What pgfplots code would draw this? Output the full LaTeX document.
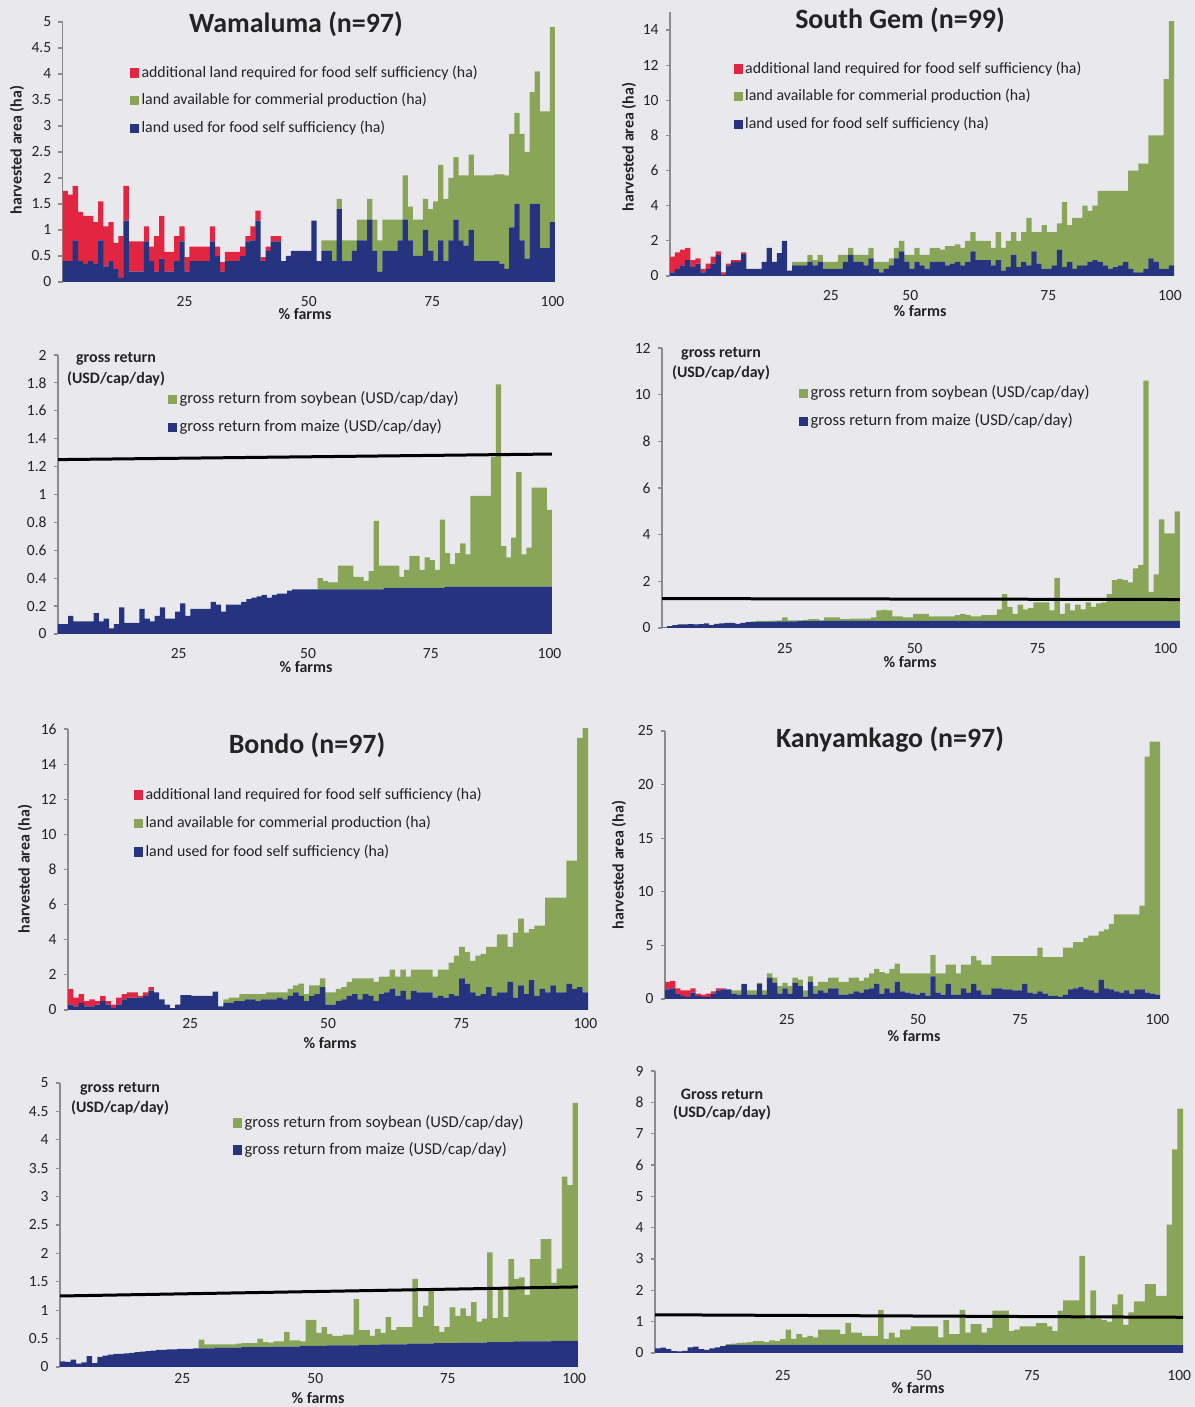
\documentclass[border=0pt]{standalone}
\usepackage{pgfplots}
\usepackage{pgfplotstable}
\pgfplotsset{compat=1.18}
\usepackage{fontspec}
\setmainfont{Carlito}

\definecolor{cBlue}{RGB}{38,52,128}
\definecolor{cGreen}{RGB}{137,166,88}
\definecolor{cRed}{RGB}{226,38,66}
\definecolor{bg}{RGB}{233,233,237}
\definecolor{axgray}{RGB}{140,140,140}
\definecolor{txt}{RGB}{35,35,35}

\newcommand\tickfont{\fontsize{7.8}{9}\selectfont}
\newcommand\legfont{\fontsize{7.95}{9}\selectfont}
\newcommand\glegfont{\fontsize{8.3}{9.5}\selectfont}
\newcommand\labfont{\bfseries\fontsize{8}{9.5}\selectfont}
\newcommand\titfont{\bfseries\fontsize{14}{16}\selectfont}

\pgfplotsset{
  panel/.style={
    scale only axis, anchor=south west,
    ybar stacked, bar width=1.04,
    axis lines*=left,
    x axis line style={draw=none},
    y axis line style={draw=axgray, line width=0.6bp},
    tick align=outside,
    major tick length=2.2bp,
    ytick style={draw=axgray, line width=0.6bp},
    xtick style={draw=none},
    ymin=0, xmin=0.5,
    tick label style={font=\tickfont, text=txt},
    /pgf/number format/assume math mode=true,
    /pgf/number format/fixed,
    legend cell align=left, reverse legend,
    legend style={draw=none, fill=none, anchor=north west, inner sep=0pt, outer sep=0pt,
      column sep=1.2bp, font=\legfont,
      nodes={inner sep=0pt, text height=5.6bp, text depth=1.6bp, text=txt}},
  },
  glegend/.style={legend style={font=\glegfont}},
  sq/.style={legend image code/.code={\fill[##1] (0bp,-2.3bp) rectangle (4.6bp,2.3bp);}},
  sb/.style={fill=cBlue, draw=none, sq},
  sg/.style={fill=cGreen, draw=none, sq},
  sr/.style={fill=cRed, draw=none, sq},
  lineaxis/.style={scale only axis, anchor=south west, hide axis, ymin=0, xmin=0.5},
}

% ---------------- harvested area: Wamaluma ----------------
\pgfplotstableread{
i b g r
1 0.40 0 1.35
2 0.40 0 1.28
3 0.80 0 1.05
4 0.40 0 0.95
5 0.35 0 0.92
6 0.40 0 0.87
7 0.35 0 0.80
8 0.80 0 0.75
9 0.30 0 0.77
10 0.40 0 0.75
11 0.25 0 0.50
12 0.08 0 0.80
13 1.18 0 0.67
14 0.20 0 0.58
15 0.20 0 0.58
16 0.20 0 0.58
17 0.78 0 0.29
18 0.40 0 0.28
19 0.20 0 0.68
20 0.45 0 0.82
21 0.20 0 0.38
22 0.20 0 0.38
23 0.40 0 0.48
24 0.78 0 0.29
25 0.20 0 0.28
26 0.40 0 0.28
27 0.40 0 0.28
28 0.40 0 0.28
29 0.40 0 0.28
30 0.78 0 0.29
31 0.50 0 0.18
32 0.20 0 0.18
33 0.40 0 0.18
34 0.40 0 0.18
35 0.40 0 0.18
36 0.50 0 0.18
37 0.78 0 0.10
38 0.80 0 0.27
39 1.18 0 0.19
40 0.40 0 0.08
41 0.60 0 0.08
42 0.78 0 0.10
43 0.78 0 0.10
44 0.40 0 0
45 0.50 0 0
46 0.60 0 0
47 0.60 0 0
48 0.60 0 0
49 0.60 0 0
50 1.18 0 0
51 0.40 0 0
52 0.60 0.20 0
53 0.60 0.20 0
54 0.40 0.40 0
55 1.40 0.20 0
56 0.40 0.40 0
57 0.40 0.40 0
58 0.60 0.20 0
59 0.80 0.40 0
60 0.80 0.40 0
61 1.20 0.40 0
62 0.60 0.60 0
63 0.20 0.60 0
64 0.60 0.60 0
65 0.60 0.60 0
66 0.60 0.60 0
67 0.80 0.40 0
68 1.20 0.85 0
69 0.80 0.65 0
70 0.50 0.70 0
71 0.50 0.70 0
72 1.00 0.60 0
73 0.60 0.80 0
74 0.40 1.15 0
75 0.80 1.45 0
76 0.40 1.20 0
77 0.80 1.20 0
78 1.20 1.20 0
79 0.80 1.25 0
80 0.70 1.35 0
81 1.00 1.45 0
82 0.40 1.65 0
83 0.40 1.65 0
84 0.40 1.65 0
85 0.40 1.65 0
86 0.40 1.67 0
87 0.35 1.72 0
88 0.25 1.80 0
89 1.05 1.80 0
90 1.50 1.75 0
91 0.80 2.05 0
92 0.45 2.05 0
93 1.50 2.15 0
94 1.50 2.55 0
95 0.65 2.63 0
96 0.65 2.63 0
97 1.15 3.75 0
}\tabWa

% ---------------- harvested area: South Gem ----------------
\pgfplotstableread{
i b g r
1 0.20 0 0.90
2 0.40 0 0.95
3 0.60 0 0.90
4 0.90 0 0.70
5 0.50 0 0.40
6 0.70 0 0.30
7 0.20 0 0.20
8 0.40 0 0.30
9 0.70 0 0.40
10 1.20 0 0.20
11 0.05 0 0.15
12 0.60 0 0.10
13 0.80 0 0.10
14 0.80 0 0.10
15 1.25 0 0.10
16 0.40 0 0
17 0.40 0 0
18 0.40 0 0
19 0.80 0 0
20 1.60 0 0
21 0.80 0 0
22 1.30 0 0
23 2.00 0 0
24 0.30 0 0
25 0.60 0.20 0
26 0.60 0.20 0
27 0.60 0.20 0
28 0.80 0.40 0
29 0.60 0.30 0
30 0.80 0.40 0
31 0.40 0.40 0
32 0.40 0.40 0
33 0.40 0.40 0
34 0.40 0.80 0
35 0.80 0.40 0
36 1.20 0.40 0
37 0.80 0.40 0
38 0.80 0.40 0
39 0.60 0.60 0
40 1.00 0.60 0
41 0.40 0.40 0
42 0.20 0.60 0
43 0.40 0.40 0
44 0.60 0.40 0
45 1.00 0.60 0
46 1.40 0.60 0
47 0.80 0.40 0
48 0.40 0.80 0
49 0.80 0.80 0
50 0.60 0.60 0
51 0.40 0.80 0
52 0.80 0.80 0
53 0.80 0.80 0
54 0.80 0.70 0
55 0.60 1.10 0
56 0.70 1.00 0
57 0.80 1.00 0
58 0.60 1.00 0
59 0.80 1.20 0
60 1.40 1.10 0
61 0.90 1.10 0
62 0.90 1.10 0
63 0.90 1.10 0
64 0.60 1.00 0
65 0.90 1.60 0
66 0.30 1.30 0
67 0.50 1.50 0
68 1.20 1.30 0
69 0.50 1.50 0
70 0.80 1.70 0
71 0.60 2.70 0
72 1.40 1.10 0
73 0.70 1.80 0
74 0.40 2.50 0
75 0.40 2.10 0
76 0.60 1.90 0
77 1.50 1.50 0
78 0.50 3.70 0
79 0.80 2.10 0
80 0.40 2.90 0
81 0.60 2.70 0
82 0.60 3.40 0
83 0.80 2.90 0
84 0.90 3.10 0
85 0.80 4.05 0
86 0.60 4.25 0
87 0.40 4.45 0
88 0.50 4.35 0
89 0.60 4.25 0
90 0.80 4.05 0
91 0.40 5.60 0
92 0.20 5.80 0
93 0.20 6.20 0
94 0.40 6.00 0
95 1.00 7.00 0
96 0.80 7.20 0
97 0.40 7.60 0
98 0.40 10.80 0
99 0.60 13.90 0
}\tabSa

% ---------------- gross return: Wamaluma ----------------
\pgfplotstableread{
i m s
1 0.07 0
2 0.07 0
3 0.13 0
4 0.09 0
5 0.09 0
6 0.09 0
7 0.09 0
8 0.15 0
9 0.09 0
10 0.11 0
11 0.04 0
12 0.07 0
13 0.19 0
14 0.08 0
15 0.08 0
16 0.08 0
17 0.18 0
18 0.11 0
19 0.09 0
20 0.13 0
21 0.19 0
22 0.11 0
23 0.11 0
24 0.16 0
25 0.22 0
26 0.13 0
27 0.18 0
28 0.18 0
29 0.18 0
30 0.18 0
31 0.23 0
32 0.21 0
33 0.16 0
34 0.21 0
35 0.21 0
36 0.21 0
37 0.23 0
38 0.25 0
39 0.26 0
40 0.27 0
41 0.28 0
42 0.26 0
43 0.28 0
44 0.29 0
45 0.29 0
46 0.31 0
47 0.32 0
48 0.32 0
49 0.32 0
50 0.32 0
51 0.32 0
52 0.32 0.08
53 0.32 0.06
54 0.32 0.05
55 0.32 0.05
56 0.32 0.17
57 0.32 0.17
58 0.32 0.17
59 0.32 0.09
60 0.32 0.09
61 0.32 0.06
62 0.32 0.13
63 0.32 0.49
64 0.32 0.17
65 0.33 0.16
66 0.33 0.16
67 0.33 0.16
68 0.33 0.08
69 0.33 0.13
70 0.33 0.23
71 0.33 0.23
72 0.33 0.13
73 0.33 0.22
74 0.33 0.20
75 0.33 0.13
76 0.33 0.49
77 0.34 0.24
78 0.34 0.16
79 0.34 0.24
80 0.34 0.31
81 0.34 0.23
82 0.34 0.65
83 0.34 0.65
84 0.34 0.65
85 0.34 0.65
86 0.34 0.93
87 0.34 1.45
88 0.34 0.29
89 0.34 0.21
90 0.34 0.35
91 0.34 0.82
92 0.34 0.23
93 0.34 0.28
94 0.34 0.71
95 0.34 0.71
96 0.34 0.71
97 0.34 0.55
}\tabWb

% ---------------- gross return: South Gem ----------------
\pgfplotstableread{
i m s
1 0.03 0
2 0.08 0
3 0.12 0
4 0.15 0
5 0.15 0
6 0.17 0
7 0.15 0
8 0.17 0
9 0.20 0
10 0.12 0
11 0.18 0
12 0.20 0
13 0.22 0
14 0.22 0
15 0.18 0
16 0.22 0
17 0.25 0
18 0.25 0.03
19 0.26 0.04
20 0.26 0.04
21 0.27 0.03
22 0.27 0.05
23 0.28 0.05
24 0.28 0.17
25 0.28 0.05
26 0.28 0.05
27 0.29 0.04
28 0.29 0.06
29 0.29 0.09
30 0.29 0.09
31 0.30 0.03
32 0.30 0.15
33 0.30 0.15
34 0.30 0.15
35 0.30 0.08
36 0.30 0.08
37 0.30 0.10
38 0.30 0.10
39 0.30 0.10
40 0.30 0.10
41 0.30 0.15
42 0.30 0.45
43 0.30 0.48
44 0.30 0.45
45 0.30 0.20
46 0.30 0.20
47 0.30 0.15
48 0.30 0.15
49 0.30 0.30
50 0.30 0.30
51 0.30 0.30
52 0.30 0.20
53 0.30 0.20
54 0.30 0.20
55 0.30 0.20
56 0.30 0.20
57 0.30 0.25
58 0.30 0.30
59 0.30 0.25
60 0.30 0.20
61 0.30 0.20
62 0.30 0.25
63 0.30 0.25
64 0.30 0.25
65 0.30 0.50
66 0.30 1.15
67 0.30 0.60
68 0.30 0.30
69 0.30 0.70
70 0.30 0.50
71 0.30 0.55
72 0.30 0.80
73 0.30 0.80
74 0.30 0.80
75 0.30 0.45
76 0.30 1.85
77 0.30 0.30
78 0.30 0.75
79 0.30 0.45
80 0.30 0.70
81 0.30 0.50
82 0.30 0.80
83 0.30 0.60
84 0.30 0.75
85 0.30 0.80
86 0.30 1.15
87 0.30 1.75
88 0.30 1.80
89 0.30 1.75
90 0.30 1.65
91 0.30 2.25
92 0.30 2.40
93 0.30 10.30
94 0.30 1.25
95 0.30 2.00
96 0.30 4.35
97 0.30 3.75
98 0.30 3.75
99 0.30 4.70
}\tabSb

% ---------------- harvested area: Bondo ----------------
\pgfplotstableread{
i b g r
1 0.30 0 0.90
2 0.20 0 0.50
3 0.40 0 0.50
4 0.20 0 0.30
5 0.20 0 0.40
6 0.30 0 0.20
7 0.50 0 0.30
8 0.30 0 0.20
9 0.10 0 0.20
10 0.30 0 0.40
11 0.60 0 0.30
12 0.70 0 0.30
13 0.70 0 0.30
14 0.70 0 0.10
15 0.80 0 0.20
16 1.10 0 0.20
17 1.00 0 0
18 0.60 0 0
19 0.30 0 0
20 0.10 0 0
21 0.30 0 0
22 0.85 0 0
23 0.85 0 0
24 0.80 0 0
25 0.80 0 0
26 0.80 0 0
27 0.80 0 0
28 1.05 0 0
29 0.20 0 0
30 0.40 0.20 0
31 0.40 0.30 0
32 0.50 0.20 0
33 0.50 0.40 0
34 0.60 0.30 0
35 0.60 0.30 0
36 0.50 0.40 0
37 0.60 0.30 0
38 0.60 0.40 0
39 0.60 0.40 0
40 0.70 0.30 0
41 0.60 0.40 0
42 0.80 0.40 0
43 1.00 0.40 0
44 0.80 0.70 0
45 0.50 0.40 0
46 0.80 0.60 0
47 0.90 0.50 0
48 1.30 0.50 0
49 0.30 0.70 0
50 0.30 0.70 0
51 0.50 0.70 0
52 0.60 0.70 0
53 0.80 0.80 0
54 0.90 0.90 0
55 0.60 1.20 0
56 0.90 0.90 0
57 0.80 1.00 0
58 0.50 1.10 0
59 0.90 1.00 0
60 1.00 0.90 0
61 1.20 1.10 0
62 0.80 1.10 0
63 1.10 1.20 0
64 0.60 1.30 0
65 1.10 1.20 0
66 1.00 1.30 0
67 1.00 1.30 0
68 1.00 1.30 0
69 0.70 1.20 0
70 0.80 1.50 0
71 0.70 1.60 0
72 0.90 1.80 0
73 0.80 2.30 0
74 1.80 1.80 0
75 1.50 1.80 0
76 1.00 1.80 0
77 0.80 2.30 0
78 0.90 2.30 0
79 1.30 2.30 0
80 0.80 2.80 0
81 1.00 3.30 0
82 1.00 3.30 0
83 1.60 2.00 0
84 0.70 3.70 0
85 1.40 3.80 0
86 0.90 3.50 0
87 1.70 2.90 0
88 0.80 4.00 0
89 1.20 3.60 0
90 1.00 5.40 0
91 1.40 5.00 0
92 1.00 5.40 0
93 1.00 5.40 0
94 1.50 7.00 0
95 1.20 7.30 0
96 1.30 14.20 0
97 1.00 15.50 0
}\tabBa

% ---------------- harvested area: Kanyamkago ----------------
\pgfplotstableread{
i b g r
1 0.90 0 0.70
2 1.00 0 0.70
3 0.50 0 0.50
4 0.30 0 0.50
5 0.20 0 0.60
6 0.60 0 0.40
7 0.30 0 0.20
8 0.20 0 0.20
9 0.20 0 0.30
10 0.50 0 0.20
11 0.80 0 0.20
12 0.90 0 0.10
13 0.90 0 0
14 0.50 0.30 0
15 0.40 0.40 0
16 1.40 0 0
17 0.40 0.40 0
18 0.40 0.40 0
19 1.40 0.10 0
20 0.40 0.40 0
21 2.00 0.40 0
22 1.50 0.50 0
23 0.50 0.70 0
24 1.00 0.50 0
25 0.50 0.70 0
26 1.50 0.50 0
27 1.20 0.60 0
28 0.20 0.60 0
29 1.60 0.50 0
30 0.50 0.70 0
31 0.80 0.80 0
32 0.60 1.00 0
33 1.00 1.00 0
34 1.00 1.00 0
35 0.40 1.20 0
36 0.40 1.20 0
37 0.50 1.50 0
38 0.70 1.30 0
39 0.60 1.10 0
40 0.90 1.10 0
41 1.00 1.40 0
42 1.40 1.40 0
43 0.50 2.00 0
44 1.00 1.40 0
45 0.60 2.20 0
46 1.60 1.70 0
47 0.70 1.70 0
48 0.60 1.80 0
49 0.50 1.90 0
50 0.40 2.00 0
51 0.60 1.80 0
52 0.30 2.10 0
53 2.10 2.00 0
54 0.60 1.80 0
55 0.40 2.00 0
56 1.40 1.80 0
57 0.40 2.80 0
58 0.40 2.00 0
59 1.00 2.20 0
60 0.60 2.60 0
61 1.40 2.60 0
62 0.80 2.80 0
63 0.40 2.80 0
64 0.40 2.80 0
65 1.00 3.00 0
66 1.00 3.00 0
67 0.90 3.10 0
68 0.90 3.10 0
69 0.80 3.20 0
70 0.80 3.20 0
71 1.40 2.60 0
72 0.60 3.40 0
73 0.50 3.50 0
74 0.70 4.10 0
75 0.50 3.40 0
76 0.30 3.60 0
77 0.30 3.60 0
78 0.20 3.70 0
79 0.40 4.40 0
80 0.90 3.90 0
81 1.00 4.30 0
82 1.10 4.20 0
83 0.90 4.80 0
84 0.80 5.10 0
85 0.60 5.30 0
86 1.80 4.50 0
87 1.00 5.50 0
88 0.90 6.10 0
89 0.70 7.20 0
90 0.60 7.30 0
91 0.80 7.10 0
92 0.50 7.40 0
93 0.90 7.00 0
94 0.90 7.80 0
95 0.60 22.00 0
96 0.50 23.50 0
97 0.40 23.60 0
}\tabKa

% ---------------- gross return: Bondo ----------------
\pgfplotstableread{
i m s
1 0.10 0
2 0.09 0
3 0.13 0
4 0.06 0
5 0.08 0
6 0.19 0
7 0.07 0
8 0.18 0
9 0.20 0
10 0.22 0
11 0.23 0
12 0.23 0
13 0.24 0
14 0.25 0
15 0.26 0
16 0.27 0
17 0.28 0
18 0.29 0
19 0.30 0
20 0.30 0
21 0.31 0
22 0.31 0
23 0.32 0
24 0.32 0
25 0.32 0
26 0.33 0
27 0.33 0.15
28 0.33 0.07
29 0.33 0.07
30 0.34 0.06
31 0.34 0.06
32 0.34 0.06
33 0.34 0.06
34 0.34 0.07
35 0.35 0.07
36 0.35 0.07
37 0.35 0.07
38 0.35 0.15
39 0.35 0.09
40 0.35 0.08
41 0.36 0.09
42 0.36 0.09
43 0.36 0.26
44 0.36 0.11
45 0.36 0.11
46 0.37 0.08
47 0.37 0.46
48 0.37 0.46
49 0.37 0.23
50 0.37 0.33
51 0.38 0.20
52 0.38 0.17
53 0.38 0.17
54 0.38 0.19
55 0.38 0.19
56 0.38 0.82
57 0.39 0.26
58 0.39 0.26
59 0.39 0.16
60 0.39 0.28
61 0.40 0.20
62 0.40 0.48
63 0.40 0.25
64 0.40 0.30
65 0.40 0.30
66 0.41 0.29
67 0.41 1.14
68 0.41 0.47
69 0.41 0.67
70 0.41 0.94
71 0.42 0.30
72 0.42 0.20
73 0.42 0.28
74 0.42 0.63
75 0.42 0.48
76 0.43 0.60
77 0.43 0.47
78 0.43 0.71
79 0.43 0.37
80 0.43 0.42
81 0.44 1.58
82 0.44 0.42
83 0.44 0.95
84 0.44 0.44
85 0.44 1.46
86 0.45 1.10
87 0.45 1.13
88 0.45 0.82
89 0.45 1.45
90 0.45 1.45
91 0.45 1.80
92 0.45 1.80
93 0.46 1.02
94 0.46 1.27
95 0.46 2.89
96 0.46 2.74
97 0.46 4.19
}\tabBb

% ---------------- gross return: Kanyamkago ----------------
\pgfplotstableread{
i m s
1 0.15 0
2 0.17 0
3 0.12 0
4 0.06 0
5 0.05 0
6 0.07 0
7 0.18 0
8 0.20 0
9 0.12 0
10 0.10 0
11 0.15 0
12 0.18 0
13 0.22 0
14 0.25 0.03
15 0.26 0.04
16 0.26 0.06
17 0.26 0.07
18 0.26 0.09
19 0.26 0.12
20 0.26 0.12
21 0.26 0.09
22 0.26 0.14
23 0.26 0.12
24 0.26 0.19
25 0.26 0.49
26 0.26 0.19
27 0.26 0.34
28 0.26 0.24
29 0.26 0.29
30 0.26 0.24
31 0.26 0.49
32 0.26 0.49
33 0.26 0.49
34 0.26 0.49
35 0.26 0.34
36 0.26 0.69
37 0.26 0.39
38 0.26 0.39
39 0.26 0.29
40 0.26 0.29
41 0.26 0.29
42 0.26 1.12
43 0.26 0.19
44 0.26 0.39
45 0.26 0.24
46 0.26 0.49
47 0.26 0.49
48 0.26 0.59
49 0.26 0.59
50 0.26 0.59
51 0.26 0.59
52 0.26 0.59
53 0.26 0.24
54 0.26 0.79
55 0.26 0.34
56 0.26 0.34
57 0.26 1.12
58 0.26 0.39
59 0.26 0.66
60 0.26 0.66
61 0.25 0.40
62 0.25 0.55
63 0.25 1.10
64 0.25 1.10
65 0.25 1.10
66 0.25 0.45
67 0.25 0.50
68 0.25 0.60
69 0.25 0.60
70 0.25 0.60
71 0.25 0.70
72 0.25 0.70
73 0.25 0.60
74 0.25 0.45
75 0.25 1.10
76 0.25 1.43
77 0.25 1.43
78 0.25 1.43
79 0.25 2.85
80 0.25 0.83
81 0.25 1.75
82 0.25 0.85
83 0.25 0.80
84 0.25 0.75
85 0.25 1.30
86 0.25 1.62
87 0.25 0.65
88 0.25 1.05
89 0.25 1.40
90 0.25 1.40
91 0.25 1.95
92 0.25 1.95
93 0.25 1.57
94 0.25 1.57
95 0.25 3.85
96 0.25 6.25
97 0.25 7.55
}\tabKb

\begin{document}
\begin{tikzpicture}
\useasboundingbox[fill=bg] (0bp,0bp) rectangle (597.5bp,703.5bp);

% ===== Wamaluma: harvested area =====
\begin{axis}[panel, at={(31.35bp,562.5bp)}, width=246.15bp, height=130bp,
  xmax=97.5, ymax=5, ytick={0,0.5,...,5},
  xtick={24.5,49,73.3,97}, xticklabels={25,50,75,100},
  xticklabel style={yshift=-1.5bp},
  legend style={at={(0.1367,0.8312)}, row sep=6.65bp}]
\addplot[sb] table[x=i,y=b]{\tabWa};
\addplot[sg] table[x=i,y=g]{\tabWa};
\addplot[sr] table[x=i,y=r]{\tabWa};
\legend{land used for food self sufficiency (ha),land available for commerial production (ha),additional land required for food self sufficiency (ha)}
\end{axis}

% ===== South Gem: harvested area =====
\begin{axis}[panel, at={(335bp,565.5bp)}, width=252bp, height=131.8bp,
  xmax=99.5, ymax=15, ytick={0,2,...,14},
  xtick={32.1,47.7,74.8,98.7}, xticklabels={25,50,75,100},
  xticklabel style={yshift=-1.5bp},
  legend style={at={(0.1262,0.8122)}, row sep=6.65bp}]
\addplot[sb] table[x=i,y=b]{\tabSa};
\addplot[sg] table[x=i,y=g]{\tabSa};
\addplot[sr] table[x=i,y=r]{\tabSa};
\legend{land used for food self sufficiency (ha),land available for commerial production (ha),additional land required for food self sufficiency (ha)}
\end{axis}

% ===== Wamaluma: gross return =====
\begin{axis}[panel, glegend, at={(29bp,386.5bp)}, width=247bp, height=139.5bp,
  xmax=97.5, ymax=2, ytick={0,0.2,...,2.01},
  xtick={24.2,49.6,73.7,97}, xticklabels={25,50,75,100},
  xticklabel style={yshift=-1.5bp},
  legend style={at={(0.2227,0.8677)}, row sep=6.9bp}]
\addplot[sb] table[x=i,y=m]{\tabWb};
\addplot[sg] table[x=i,y=s]{\tabWb};
\legend{gross return from maize (USD/cap/day),gross return from soybean (USD/cap/day)}
\end{axis}
\begin{axis}[lineaxis, at={(29bp,386.5bp)}, width=247bp, height=139.5bp, xmax=97.5, ymax=2]
\addplot[black, line width=1.5bp] coordinates {(0.5,1.25) (97.5,1.29)};
\end{axis}

% ===== South Gem: gross return =====
\begin{axis}[panel, glegend, at={(331bp,389.5bp)}, width=259bp, height=140bp,
  xmax=99.5, ymax=12, ytick={0,2,...,12},
  xtick={24,48.8,72.3,96.7}, xticklabels={25,50,75,100},
  xticklabel style={yshift=-2bp},
  legend style={at={(0.2645,0.8646)}, row sep=7.15bp}]
\addplot[sb] table[x=i,y=m]{\tabSb};
\addplot[sg] table[x=i,y=s]{\tabSb};
\legend{gross return from maize (USD/cap/day),gross return from soybean (USD/cap/day)}
\end{axis}
\begin{axis}[lineaxis, at={(331bp,389.5bp)}, width=259bp, height=140bp, xmax=99.5, ymax=12]
\addplot[black, line width=1.5bp] coordinates {(0.5,1.26) (99.5,1.22)};
\end{axis}

% ===== Bondo: harvested area =====
\begin{axis}[panel, at={(34bp,198.5bp)}, width=260bp, height=140.5bp,
  xmax=97.5, ymax=16, ytick={0,2,...,16},
  xtick={23.3,49,73.9,97}, xticklabels={25,50,75,100},
  xticklabel style={yshift=1.5bp},
  legend style={at={(0.1269,0.7904)}, row sep=7.05bp}]
\addplot[sb] table[x=i,y=b]{\tabBa};
\addplot[sg] table[x=i,y=g]{\tabBa};
\addplot[sr] table[x=i,y=r]{\tabBa};
\legend{land used for food self sufficiency (ha),land available for commerial production (ha),additional land required for food self sufficiency (ha)}
\end{axis}

% ===== Kanyamkago: harvested area =====
\begin{axis}[panel, at={(332.5bp,204bp)}, width=247.5bp, height=134bp,
  xmax=97.5, ymax=25, ytick={0,5,...,25},
  xtick={24.4,50.1,70.1,97}, xticklabels={25,50,75,100},
  xticklabel style={yshift=-2bp}]
\addplot[sb] table[x=i,y=b]{\tabKa};
\addplot[sg] table[x=i,y=g]{\tabKa};
\addplot[sr] table[x=i,y=r]{\tabKa};
\end{axis}

% ===== Bondo: gross return =====
\begin{axis}[panel, glegend, at={(30bp,20bp)}, width=259bp, height=142bp,
  xmax=97.5, ymax=5, ytick={0,0.5,...,5},
  xtick={23.4,48.3,73.1,96.8}, xticklabels={25,50,75,100},
  xticklabel style={yshift=2.5bp},
  legend style={at={(0.334,0.8842)}, row sep=6.3bp}]
\addplot[sb] table[x=i,y=m]{\tabBb};
\addplot[sg] table[x=i,y=s]{\tabBb};
\legend{gross return from maize (USD/cap/day),gross return from soybean (USD/cap/day)}
\end{axis}
\begin{axis}[lineaxis, at={(30bp,20bp)}, width=259bp, height=142bp, xmax=97.5, ymax=5]
\addplot[black, line width=1.5bp] coordinates {(0.5,1.25) (97.5,1.41)};
\end{axis}

% ===== Kanyamkago: gross return =====
\begin{axis}[panel, at={(327.5bp,27bp)}, width=264bp, height=141bp,
  xmax=97.5, ymax=9, ytick={0,1,...,9},
  xtick={24,49.9,69.8,96.8}, xticklabels={25,50,75,100},
  xticklabel style={yshift=-3bp}]
\addplot[sb] table[x=i,y=m]{\tabKb};
\addplot[sg] table[x=i,y=s]{\tabKb};
\end{axis}
\begin{axis}[lineaxis, at={(327.5bp,27bp)}, width=264bp, height=141bp, xmax=97.5, ymax=9]
\addplot[black, line width=1.5bp] coordinates {(0.5,1.22) (97.5,1.14)};
\end{axis}

% ----- titles and labels -----
\begin{scope}[every node/.style={text=txt}]
\node[font=\titfont] at (148bp,691.5bp) {Wamaluma (n=97)};
\node[font=\titfont] at (450bp,693.5bp) {South Gem (n=99)};
\node[font=\titfont] at (153.5bp,331bp) {Bondo (n=97)};
\node[font=\titfont] at (445bp,333.5bp) {Kanyamkago (n=97)};

\node[font=\labfont, rotate=90] at (8.5bp,628.5bp) {harvested area (ha)};
\node[font=\labfont, rotate=90] at (314.5bp,630bp) {harvested area (ha)};
\node[font=\labfont, rotate=90] at (12.5bp,269bp) {harvested area (ha)};
\node[font=\labfont, rotate=90] at (309.5bp,271bp) {harvested area (ha)};

\node[font=\labfont] at (152.5bp,546.5bp) {\% farms};
\node[font=\labfont] at (460bp,548bp) {\% farms};
\node[font=\labfont] at (153bp,370bp) {\% farms};
\node[font=\labfont] at (455bp,372.5bp) {\% farms};
\node[font=\labfont] at (165bp,182bp) {\% farms};
\node[font=\labfont] at (457bp,185.5bp) {\% farms};
\node[font=\labfont] at (159bp,4.5bp) {\% farms};
\node[font=\labfont] at (459bp,9.5bp) {\% farms};

\node[font=\labfont] at (58bp,524bp) {gross return};
\node[font=\labfont] at (58bp,514bp) {(USD/cap/day)};
\node[font=\labfont] at (360.5bp,526.5bp) {gross return};
\node[font=\labfont] at (360.5bp,517bp) {(USD/cap/day)};
\node[font=\labfont] at (60bp,159bp) {gross return};
\node[font=\labfont] at (60bp,149.5bp) {(USD/cap/day)};
\node[font=\labfont] at (361bp,156.5bp) {Gross return};
\node[font=\labfont] at (361bp,147bp) {(USD/cap/day)};
\end{scope}
\end{tikzpicture}
\end{document}
